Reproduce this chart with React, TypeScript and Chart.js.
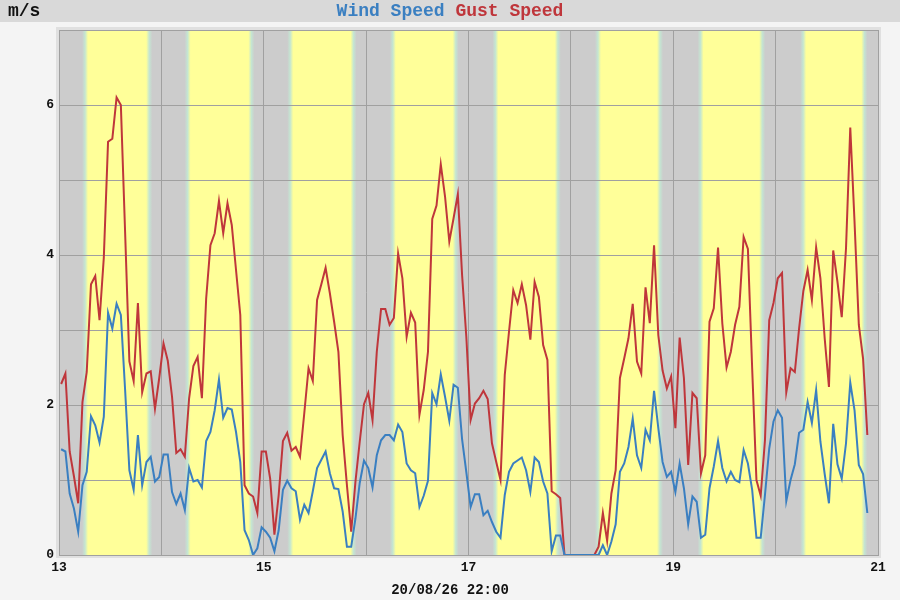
import React, { useEffect, useRef } from 'react'
import { Chart, registerables } from 'chart.js'

Chart.register(...registerables)

// x axis is days of the month, readings are hourly starting at 13 00:30
const startDay = 13
const endDay = 21
const xLabels = [13, 15, 17, 19, 21]
const yLabels = [0, 2, 4, 6]
const stamp = '20/08/26 22:00'

const windSpeed = [
  1.41, 1.38, 0.82, 0.62, 0.31, 0.93, 1.11, 1.85, 1.73, 1.5, 1.84, 3.23,
  3.02, 3.35, 3.2, 2.2, 1.13, 0.87, 1.6, 0.93, 1.24, 1.31, 0.98, 1.04,
  1.34, 1.34, 0.84, 0.68, 0.82, 0.6, 1.16, 0.98, 1.0, 0.9, 1.52, 1.64,
  1.93, 2.34, 1.83, 1.96, 1.94, 1.64, 1.24, 0.33, 0.2, 0.0, 0.09, 0.37,
  0.31, 0.23, 0.05, 0.33, 0.87, 0.99, 0.89, 0.85, 0.47, 0.67, 0.56, 0.85,
  1.16, 1.27, 1.38, 1.09, 0.89, 0.88, 0.58, 0.11, 0.11, 0.49, 0.96, 1.26,
  1.16, 0.9, 1.33, 1.53, 1.6, 1.6, 1.53, 1.74, 1.64, 1.22, 1.13, 1.09,
  0.64, 0.79, 0.99, 2.16, 2.01, 2.41, 2.11, 1.79, 2.27, 2.23, 1.54, 1.1,
  0.64, 0.81, 0.81, 0.53, 0.59, 0.44, 0.31, 0.23, 0.8, 1.11, 1.22, 1.26,
  1.3, 1.13, 0.84, 1.3, 1.24, 0.98, 0.82, 0.05, 0.26, 0.26, 0, 0,
  0, 0, 0, 0, 0, 0, 0, 0.13, 0, 0.18, 0.41, 1.11,
  1.22, 1.44, 1.82, 1.33, 1.16, 1.67, 1.53, 2.19, 1.69, 1.24, 1.04, 1.11,
  0.84, 1.22, 0.89, 0.41, 0.78, 0.71, 0.23, 0.27, 0.89, 1.18, 1.52, 1.16,
  0.98, 1.11, 1.0, 0.97, 1.4, 1.22, 0.87, 0.23, 0.23, 0.8, 1.42, 1.78,
  1.93, 1.83, 0.72, 1.0, 1.21, 1.63, 1.67, 2.04, 1.76, 2.2, 1.51, 1.08,
  0.69, 1.75, 1.21, 1.02, 1.49, 2.3, 1.93, 1.2, 1.08, 0.56
]

const gustSpeed = [
  2.28, 2.42, 1.38, 1.05, 0.69, 2.04, 2.44, 3.61, 3.72, 3.13, 3.96, 5.51,
  5.55, 6.1, 6.0, 4.3, 2.58, 2.32, 3.36, 2.17, 2.42, 2.45, 1.95, 2.36,
  2.82, 2.59, 2.11, 1.36, 1.41, 1.31, 2.09, 2.52, 2.64, 2.09, 3.42, 4.13,
  4.29, 4.72, 4.29, 4.69, 4.4, 3.8, 3.2, 0.93, 0.82, 0.78, 0.56, 1.38,
  1.38, 1.02, 0.27, 0.8, 1.52, 1.63, 1.39, 1.44, 1.31, 1.89, 2.49, 2.32,
  3.4, 3.61, 3.83, 3.49, 3.11, 2.71, 1.6, 0.93, 0.31, 0.98, 1.51, 2.01,
  2.16, 1.8, 2.71, 3.28, 3.28, 3.07, 3.16, 4.02, 3.69, 2.91, 3.23, 3.1,
  1.87, 2.2, 2.71, 4.48, 4.66, 5.21, 4.78, 4.18, 4.49, 4.81, 3.73, 2.9,
  1.8, 2.02, 2.09, 2.19, 2.08, 1.49, 1.24, 1.0, 2.4, 2.98, 3.53, 3.36,
  3.61, 3.33, 2.87, 3.64, 3.44, 2.8, 2.6, 0.85, 0.81, 0.76, 0, 0,
  0, 0, 0, 0, 0, 0, 0.11, 0.56, 0.19, 0.82, 1.13, 2.36,
  2.62, 2.89, 3.35, 2.58, 2.42, 3.57, 3.09, 4.13, 2.93, 2.46, 2.22, 2.38,
  1.69, 2.9, 2.36, 1.2, 2.16, 2.09, 1.09, 1.33, 3.11, 3.29, 4.1, 3.09,
  2.5, 2.71, 3.07, 3.31, 4.24, 4.08, 2.49, 1.0, 0.79, 1.53, 3.13, 3.36,
  3.69, 3.76, 2.17, 2.49, 2.44, 3.02, 3.52, 3.8, 3.4, 4.1, 3.69, 2.89,
  2.24, 4.06, 3.64, 3.17, 4.09, 5.7, 4.44, 3.07, 2.62, 1.6
]

// sunrise / sunset in hours for each day 13..20
const sunrise = [6.1, 6.15, 6.2, 6.25, 6.3, 6.35, 6.4, 6.45]
const sunset = [21.15, 21.1, 21.05, 21.0, 20.95, 20.9, 20.85, 20.8]

const WIND = '#3a7fc1'
const GUST = '#bf363b'
const MONO = '"Liberation Mono", "DejaVu Sans Mono", monospace'

const toPoints = (vals: number[]) =>
  vals.map((v, i) => ({ x: startDay + (i + 0.5) / 24, y: v }))

const backdrop = {
  id: 'backdrop',
  beforeDraw(chart: any) {
    const { ctx, chartArea: a } = chart
    const xs = chart.scales.x
    ctx.save()
    ctx.fillStyle = '#d9d9d9'
    ctx.fillRect(0, 0, chart.width, 22)
    ctx.fillStyle = '#e0e0e0'
    ctx.fillRect(a.left - 3, a.top - 3, a.width + 6, a.height + 6)
    ctx.fillStyle = '#cccccc'
    ctx.fillRect(a.left, a.top, a.width, a.height)
    sunrise.forEach((rise, i) => {
      const x0 = xs.getPixelForValue(startDay + i + rise / 24) - 3
      const x1 = xs.getPixelForValue(startDay + i + sunset[i] / 24) + 3
      const w = x1 - x0
      const f = 6 / w
      const g = ctx.createLinearGradient(x0, 0, x1, 0)
      g.addColorStop(0, '#cccccc')
      g.addColorStop(f * 0.5, '#c4e6d2')
      g.addColorStop(f, '#ffff99')
      g.addColorStop(1 - f, '#ffff99')
      g.addColorStop(1 - f * 0.5, '#c4e6d2')
      g.addColorStop(1, '#cccccc')
      ctx.fillStyle = g
      ctx.fillRect(x0, a.top, w, a.height)
    })
    ctx.restore()
  },
  afterDraw(chart: any) {
    const { ctx } = chart
    ctx.save()
    ctx.textBaseline = 'middle'
    ctx.font = `bold 18px ${MONO}`
    ctx.fillStyle = '#111'
    ctx.textAlign = 'left'
    ctx.fillText('m/s', 8, 11)
    const a = 'Wind Speed'
    const b = 'Gust Speed'
    const wa = ctx.measureText(a + ' ').width
    const wb = ctx.measureText(b).width
    const x0 = 450 - (wa + wb) / 2
    ctx.fillStyle = WIND
    ctx.fillText(a, x0, 11)
    ctx.fillStyle = GUST
    ctx.fillText(b, x0 + wa, 11)
    ctx.font = `bold 14px ${MONO}`
    ctx.fillStyle = '#111'
    ctx.textAlign = 'center'
    ctx.fillText(stamp, 450, 590)
    ctx.restore()
  }
}

const WindChart: React.FC = () => {
  const canvasRef = useRef<HTMLCanvasElement | null>(null)
  const chartRef = useRef<Chart | null>(null)

  useEffect(() => {
    if (!canvasRef.current) return
    if (chartRef.current) chartRef.current.destroy()

    const tickFont = { family: MONO, size: 13, weight: 'bold' as const }

    chartRef.current = new Chart(canvasRef.current, {
      type: 'line',
      data: {
        datasets: [
          {
            label: 'Wind Speed',
            data: toPoints(windSpeed),
            borderColor: WIND,
            borderWidth: 2,
            pointRadius: 0,
            tension: 0
          },
          {
            label: 'Gust Speed',
            data: toPoints(gustSpeed),
            borderColor: GUST,
            borderWidth: 2,
            pointRadius: 0,
            tension: 0
          }
        ]
      },
      options: {
        responsive: false,
        animation: false,
        layout: { padding: { top: 30, right: 22, left: 0, bottom: 0 } },
        plugins: {
          legend: { display: false },
          tooltip: { enabled: false }
        },
        scales: {
          x: {
            type: 'linear',
            min: startDay,
            max: endDay,
            afterFit: (s: any) => {
              s.height = 45
            },
            grid: { color: '#a0a0a0', lineWidth: 1, drawTicks: false },
            border: { display: true, color: '#a0a0a0', width: 1 },
            ticks: {
              stepSize: 1,
              autoSkip: false,
              maxRotation: 0,
              padding: 5,
              color: '#111',
              font: tickFont,
              callback: (v: any) => (xLabels.includes(Number(v)) ? String(v) : '')
            }
          },
          y: {
            min: 0,
            max: 7,
            afterFit: (s: any) => {
              s.width = 59
            },
            grid: { color: '#a0a0a0', lineWidth: 1, drawTicks: false },
            border: { display: true, color: '#a0a0a0', width: 1 },
            ticks: {
              stepSize: 1,
              padding: 5,
              color: '#111',
              font: tickFont,
              callback: (v: any) => (yLabels.includes(Number(v)) ? String(v) : '')
            }
          }
        }
      },
      plugins: [backdrop]
    })

    return () => {
      if (chartRef.current) {
        chartRef.current.destroy()
        chartRef.current = null
      }
    }
  }, [])

  return <canvas ref={canvasRef} width={900} height={600} />
}

export default function App() {
  return (
    <div style={{ position: 'fixed', left: 0, top: 0, width: 900, height: 600, background: '#f4f4f4' }}>
      <WindChart />
    </div>
  )
}
